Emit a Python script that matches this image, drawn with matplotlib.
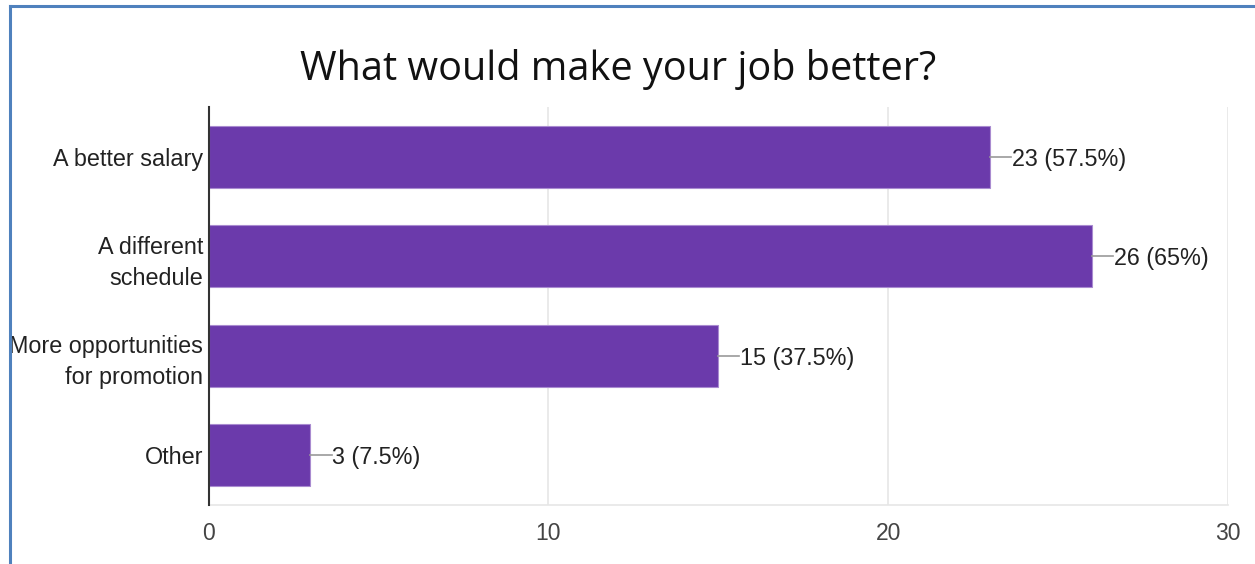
import matplotlib.pyplot as plt
from matplotlib.lines import Line2D

categories = ['A better salary', 'A different\nschedule', 'More opportunities\nfor promotion', 'Other']
counts = [23, 26, 15, 3]
percents = ['57.5%', '65%', '37.5%', '7.5%']
xticks = [0, 10, 20, 30]

W, H = 1255, 564
fig = plt.figure(figsize=(W / 100, H / 100), dpi=100)
ax = fig.add_axes([208.5 / W, 1 - 505 / H, (1228 - 208.5) / W, (505 - 107) / H])

bar_color = '#6b3aab'
ypos = list(range(len(categories)))
ax.barh(ypos, counts, height=0.62, color=bar_color, edgecolor='#a98bd0', linewidth=0.8, zorder=3)

ax.set_xlim(0, 30)
ax.set_ylim(len(categories) - 0.5, -0.5)
ax.set_xticks(xticks)
ax.set_xticklabels([str(t) for t in xticks], fontsize=16.5, color='#444444', family='Liberation Sans')
ax.set_yticks(ypos)
ax.set_yticklabels(categories, fontsize=16.8, color='#222222', family='Liberation Sans',
                   ha='right', linespacing=1.45)
ax.tick_params(axis='both', length=0)
ax.tick_params(axis='x', pad=12)
ax.tick_params(axis='y', pad=4)

ax.grid(axis='x', color='#e6e6e6', linewidth=1.2, zorder=0)
for side in ['top', 'right']:
    ax.spines[side].set_visible(False)
ax.spines['bottom'].set_color('#e6e6e6')
ax.spines['bottom'].set_linewidth(1.2)
ax.spines['left'].set_color('#333333')
ax.spines['left'].set_linewidth(1.5)
ax.spines['left'].set_zorder(4)

# value labels with short leader lines
for y, c, p in zip(ypos, counts, percents):
    ax.plot([c, c + 0.62], [y, y], color='#999999', linewidth=1.2, zorder=4)
    ax.text(c + 0.64, y, '{0} ({1})'.format(c, p), va='center_baseline', ha='left',
            fontsize=16.8, color='#222222', family='Liberation Sans')

fig.text(618 / W, 1 - 70 / H, 'What would make your job better?', ha='center', va='center',
         fontsize=28.5, color='#111111', family='Open Sans')

# blue frame (left and top edges visible)
border = '#4f81bd'
fig.add_artist(Line2D([9.5 / W, 9.5 / W], [0, 1 - 6 / H], color=border, linewidth=2.2))
fig.add_artist(Line2D([9.5 / W, 1], [1 - 6 / H, 1 - 6 / H], color=border, linewidth=2.2))

fig.savefig('out.png', dpi=100)
